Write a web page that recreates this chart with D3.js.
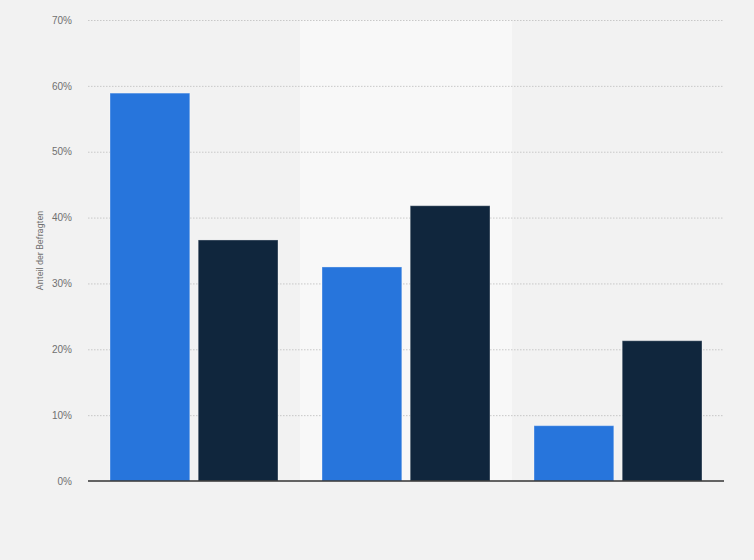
<!DOCTYPE html>
<html>
<head>
<meta charset="utf-8">
<script src="https://cdn.jsdelivr.net/npm/d3@7"></script>
<style>
  html, body { margin: 0; padding: 0; background: #f2f2f2; }
  svg { display: block; font-family: Roboto, "Liberation Sans", Arial, sans-serif; }
  .tick text { fill: #707070; font-size: 10px; }
  .grid line { stroke: #c8c8c8; stroke-dasharray: 1.5 1.5; }
</style>
</head>
<body>
<svg id="chart" width="754" height="560"></svg>
<script>
// groups (no visible category labels in the reference)
const groups = ['A', 'B', 'C'];
const seriesKeys = ['s1', 's2'];
const series1 = [58.9, 32.5, 8.4];
const series2 = [36.6, 41.8, 21.3];
const yTicks = [0, 10, 20, 30, 40, 50, 60, 70];
const yLabel = 'Anteil der Befragten';

const colors = { s1: '#2775dc', s2: '#10263d' };
const M = { t: 20, r: 30, b: 79, l: 88 };
const W = 754, H = 560;

const rows = groups.map((g, i) => ({ g, s1: series1[i], s2: series2[i] }));

const svg = d3.select('#chart');
const x = d3.scaleBand().domain(groups).range([M.l, W - M.r]);
const x1 = d3.scaleBand().domain(seriesKeys).range([22, x.bandwidth() - 22]).paddingInner(0.095);
const y = d3.scaleLinear().domain([0, 70]).range([H - M.b, M.t]);

// alternating band background
svg.append('g').selectAll('rect').data(groups.filter((d, i) => i % 2 === 1)).join('rect')
  .attr('x', d => x(d)).attr('y', M.t).attr('width', x.bandwidth())
  .attr('height', y(0) - M.t).attr('fill', '#f8f8f8');

// gridlines
svg.append('g').attr('class', 'grid').selectAll('line').data(yTicks.filter(d => d > 0)).join('line')
  .attr('x1', M.l).attr('x2', W - M.r).attr('y1', d => y(d) + 0.5).attr('y2', d => y(d) + 0.5);

// y axis labels
const gy = svg.append('g').attr('transform', `translate(${M.l},0)`)
  .call(d3.axisLeft(y).tickValues(yTicks).tickFormat(d => d + '%').tickSize(0).tickPadding(16));
gy.select('.domain').remove();

// bars
svg.append('g').selectAll('g').data(rows).join('g')
  .attr('transform', d => `translate(${x(d.g)},0)`)
  .selectAll('rect').data(d => seriesKeys.map(k => ({ k, v: d[k] }))).join('rect')
  .attr('x', d => x1(d.k)).attr('width', x1.bandwidth())
  .attr('y', d => y(d.v)).attr('height', d => y(0) - y(d.v))
  .attr('fill', d => colors[d.k])
  .attr('stroke', 'rgba(255,255,255,0.35)').attr('stroke-width', 1);

// baseline
svg.append('line').attr('x1', M.l).attr('x2', W - M.r)
  .attr('y1', y(0)).attr('y2', y(0)).attr('stroke', '#333').attr('stroke-width', 1.5);

// axis title
svg.append('text').attr('transform', `translate(43,${(M.t + y(0)) / 2}) rotate(-90)`)
  .attr('text-anchor', 'middle').attr('fill', '#707070').attr('font-size', 9).text(yLabel);
</script>
</body>
</html>
